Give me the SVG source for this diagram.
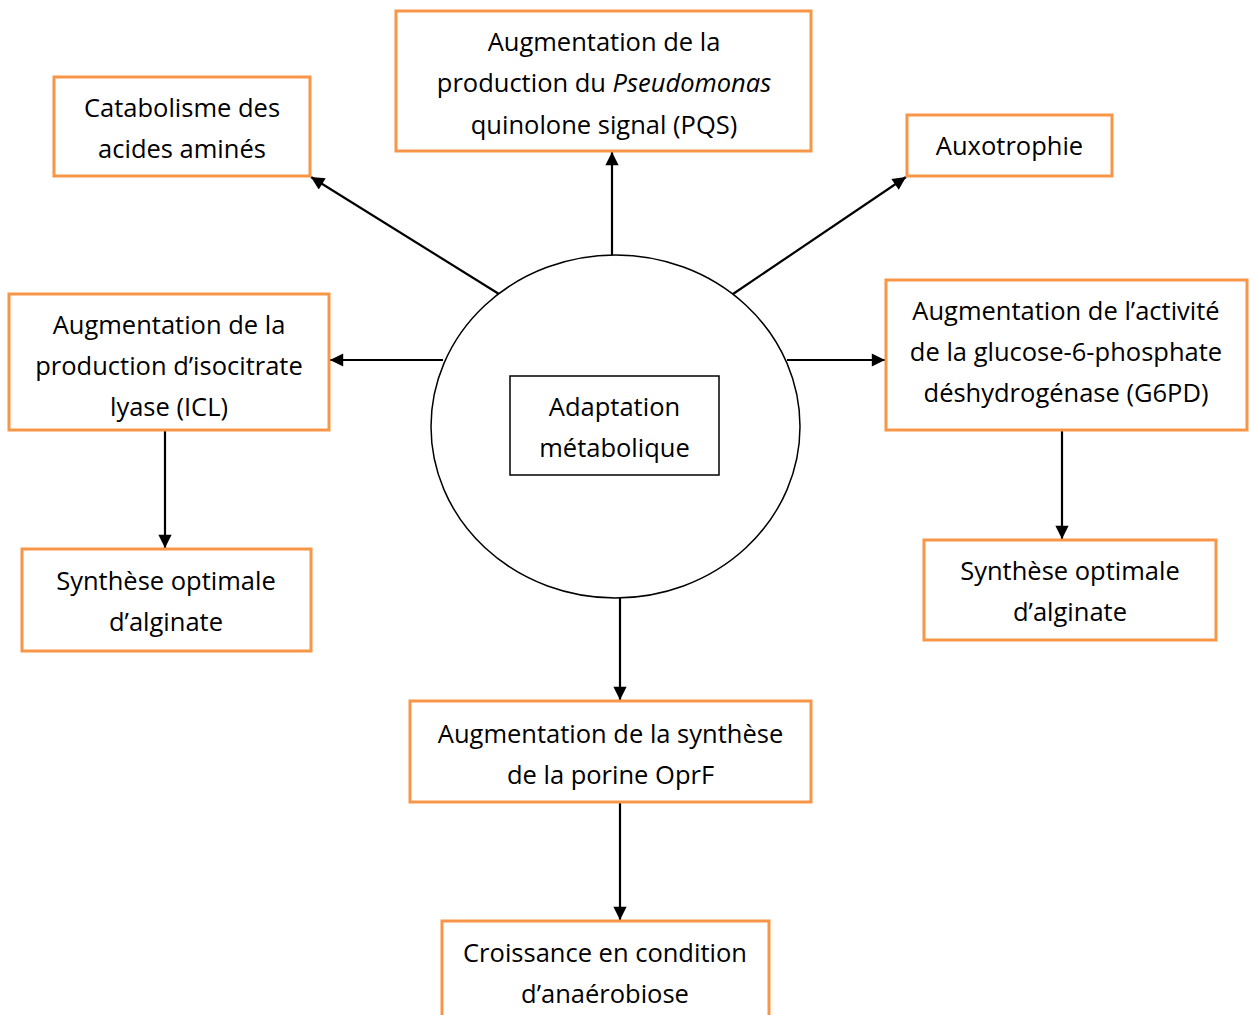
<svg xmlns="http://www.w3.org/2000/svg" width="1251" height="1015" viewBox="0 0 1251 1015">
  <style>
    .box { fill: #ffffff; stroke: #F79646; stroke-width: 3; }
    .core { fill: #ffffff; stroke: #000000; stroke-width: 1.5; }
    .lbl { font-family: "Open Sans", "Liberation Sans", sans-serif; font-size: 25.5px; fill: #000000; text-anchor: middle; }
    .edge { stroke: #000000; stroke-width: 2.2; fill: none; marker-end: url(#head); }
  </style>
  <defs>
    <marker id="head" viewBox="0 0 10 10" refX="10" refY="5" markerWidth="6.5" markerHeight="6" markerUnits="strokeWidth" orient="auto">
      <path d="M0,0 L10,5 L0,10 z" fill="#000000"/>
    </marker>
  </defs>
  <rect width="1251" height="1015" fill="#ffffff"/>

  <g id="connectors">
    <line class="edge" x1="612" y1="255" x2="612" y2="152"/>
    <line class="edge" x1="499" y1="294" x2="311" y2="177"/>
    <line class="edge" x1="733" y1="294" x2="906" y2="177"/>
    <line class="edge" x1="443" y1="360" x2="330" y2="360"/>
    <line class="edge" x1="787" y1="360" x2="885" y2="360"/>
    <line class="edge" x1="165" y1="430" x2="165" y2="548"/>
    <line class="edge" x1="1062" y1="430" x2="1062" y2="539"/>
    <line class="edge" x1="620" y1="598" x2="620" y2="700"/>
    <line class="edge" x1="620" y1="802" x2="620" y2="920"/>
  </g>

  <g id="center">
    <ellipse class="core" cx="615.5" cy="426.5" rx="184.5" ry="171.5"/>
    <rect class="core" x="510" y="376" width="209" height="99"/>
    <text class="lbl" x="614.5" y="416">Adaptation</text>
    <text class="lbl" x="614.5" y="457">métabolique</text>
  </g>

  <g id="pqs">
    <rect class="box" x="396" y="11" width="415" height="140"/>
    <text class="lbl" x="604" y="51">Augmentation de la</text>
    <text class="lbl" x="604" y="92">production du <tspan font-style="italic">Pseudomonas</tspan></text>
    <text class="lbl" x="604" y="134">quinolone signal (PQS)</text>
  </g>

  <g id="catabolisme">
    <rect class="box" x="54" y="77" width="256" height="99"/>
    <text class="lbl" x="182" y="117">Catabolisme des</text>
    <text class="lbl" x="182" y="158">acides aminés</text>
  </g>

  <g id="auxotrophie">
    <rect class="box" x="907" y="115" width="205" height="61"/>
    <text class="lbl" x="1009.5" y="155">Auxotrophie</text>
  </g>

  <g id="icl">
    <rect class="box" x="9" y="294" width="320" height="136"/>
    <text class="lbl" x="169" y="334">Augmentation de la</text>
    <text class="lbl" x="169" y="375">production d’isocitrate</text>
    <text class="lbl" x="169" y="416">lyase (ICL)</text>
  </g>

  <g id="g6pd">
    <rect class="box" x="886" y="280" width="361" height="150"/>
    <text class="lbl" x="1066" y="320">Augmentation de l’activité</text>
    <text class="lbl" x="1066" y="361">de la glucose-6-phosphate</text>
    <text class="lbl" x="1066" y="402">déshydrogénase (G6PD)</text>
  </g>

  <g id="alginate-left">
    <rect class="box" x="22" y="549" width="289" height="102"/>
    <text class="lbl" x="166" y="590">Synthèse optimale</text>
    <text class="lbl" x="166" y="631">d’alginate</text>
  </g>

  <g id="alginate-right">
    <rect class="box" x="924" y="540" width="292" height="100"/>
    <text class="lbl" x="1070" y="580">Synthèse optimale</text>
    <text class="lbl" x="1070" y="621">d’alginate</text>
  </g>

  <g id="oprf">
    <rect class="box" x="410" y="701" width="401" height="101"/>
    <text class="lbl" x="610.5" y="743">Augmentation de la synthèse</text>
    <text class="lbl" x="610.5" y="784">de la porine OprF</text>
  </g>

  <g id="anaerobiose">
    <rect class="box" x="442" y="921" width="327" height="110"/>
    <text class="lbl" x="605" y="962">Croissance en condition</text>
    <text class="lbl" x="605" y="1003">d’anaérobiose</text>
  </g>
</svg>
